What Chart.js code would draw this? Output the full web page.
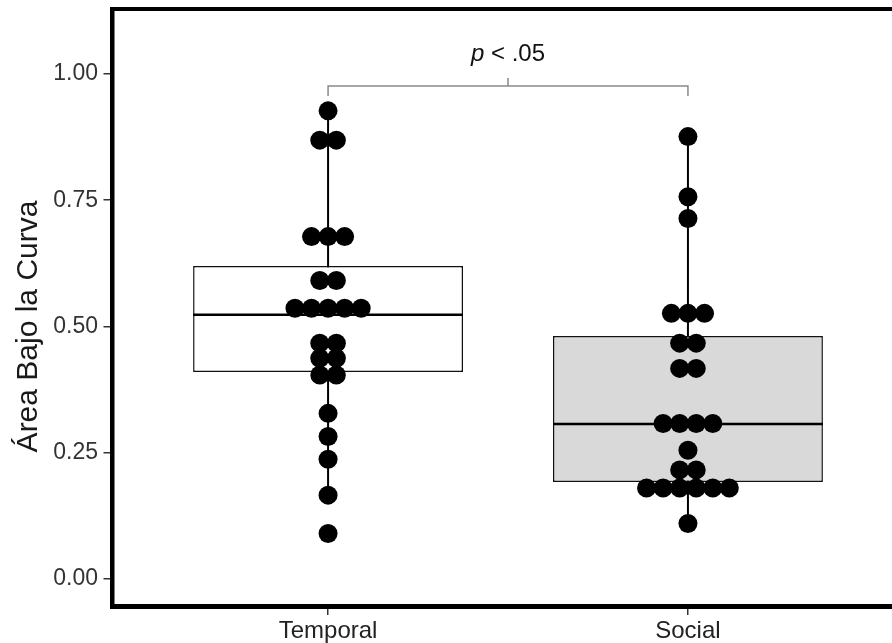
<!DOCTYPE html>
<html>
<head>
<meta charset="utf-8">
<script src="https://cdn.jsdelivr.net/npm/chart.js@4.4.1/dist/chart.umd.min.js"></script>
<style>
  html, body { margin: 0; padding: 0; background: #fff; overflow: hidden; }
  canvas { display: block; }
</style>
</head>
<body>
<canvas id="aucChart" width="892" height="643"></canvas>
<script>
const categories = ["Temporal", "Social"];

// one value per participant
const temporalAUC = [
  0.927,
  0.869, 0.869,
  0.678, 0.678, 0.678,
  0.591, 0.591,
  0.536, 0.536, 0.536, 0.536, 0.536,
  0.467, 0.467,
  0.437, 0.437,
  0.404, 0.404,
  0.328, 0.282, 0.237, 0.166, 0.090
];
const socialAUC = [
  0.876, 0.757, 0.714,
  0.526, 0.526, 0.526,
  0.467, 0.467,
  0.417, 0.417,
  0.308, 0.308, 0.308, 0.308,
  0.255,
  0.216, 0.216,
  0.180, 0.180, 0.180, 0.180, 0.180, 0.180,
  0.110
];

const boxQ1 = [0.410, 0.192];
const boxMedian = [0.523, 0.307];
const boxQ3 = [0.620, 0.481];
const whiskerLow = [0.166, 0.110];
const whiskerHigh = [0.927, 0.876];
const boxFill = ["#ffffff", "#d9d9d9"];

const yTicks = [0, 0.25, 0.5, 0.75, 1];
const yTitle = "Área Bajo la Curva";
const bracketY = 0.976;
const bracketP = "p";
const bracketRest = " < .05";

const FONT = "'Liberation Sans', Arial, sans-serif";
const BOX_WIDTH = 0.75;
const DOT_STEP = 0.046;

// center each row of equal values around the category position
function dotPoints(values, xPos) {
  const counts = {};
  values.forEach((v) => { counts[v] = (counts[v] || 0) + 1; });
  const used = {};
  return values.map((v) => {
    const i = used[v] || 0;
    used[v] = i + 1;
    return { x: xPos + (i - (counts[v] - 1) / 2) * DOT_STEP, y: v };
  });
}

const whiskerData = [];
const medianData = [];
categories.forEach((c, i) => {
  if (i > 0) {
    whiskerData.push({ x: i + 0.5, y: null });
    medianData.push({ x: i + 0.5, y: null });
  }
  whiskerData.push({ x: i + 1, y: whiskerLow[i] }, { x: i + 1, y: whiskerHigh[i] });
  medianData.push({ x: i + 1 - BOX_WIDTH / 2, y: boxMedian[i] }, { x: i + 1 + BOX_WIDTH / 2, y: boxMedian[i] });
});

const boxData = categories.map((c, i) => ({ x: i + 1, y: [boxQ1[i], boxQ3[i]] }));
const dotData = dotPoints(temporalAUC, 1).concat(dotPoints(socialAUC, 2));

const decorPlugin = {
  id: "decor",
  afterDraw(chart) {
    const { ctx, chartArea, scales } = chart;
    const x = scales.x, y = scales.y;
    ctx.save();

    // top frame line
    ctx.strokeStyle = "#000";
    ctx.lineWidth = 4;
    ctx.beginPath();
    ctx.moveTo(chartArea.left - 2, chartArea.top);
    ctx.lineTo(chartArea.right, chartArea.top);
    ctx.stroke();

    // significance bracket
    const x1 = x.getPixelForValue(1);
    const x2 = x.getPixelForValue(2);
    const xm = (x1 + x2) / 2;
    const yb = y.getPixelForValue(bracketY);
    ctx.strokeStyle = "#8a8a8a";
    ctx.lineWidth = 1.5;
    ctx.beginPath();
    ctx.moveTo(x1, yb + 10);
    ctx.lineTo(x1, yb);
    ctx.lineTo(x2, yb);
    ctx.lineTo(x2, yb + 10);
    ctx.moveTo(xm, yb);
    ctx.lineTo(xm, yb - 8);
    ctx.stroke();

    ctx.fillStyle = "#111";
    ctx.textBaseline = "alphabetic";
    ctx.textAlign = "left";
    ctx.font = "italic 24px " + FONT;
    const wP = ctx.measureText(bracketP).width;
    ctx.font = "24px " + FONT;
    const wR = ctx.measureText(bracketRest).width;
    const tx = xm - (wP + wR) / 2;
    const ty = yb - 25;
    ctx.font = "italic 24px " + FONT;
    ctx.fillText(bracketP, tx, ty);
    ctx.font = "24px " + FONT;
    ctx.fillText(bracketRest, tx + wP, ty);

    // y axis title
    ctx.translate(37, y.getPixelForValue(0.5));
    ctx.rotate(-Math.PI / 2);
    ctx.textAlign = "center";
    ctx.fillStyle = "#1a1a1a";
    ctx.font = "30px " + FONT;
    ctx.fillText(yTitle, 0, 0);

    ctx.restore();
  }
};

new Chart(document.getElementById("aucChart"), {
  type: "scatter",
  data: {
    datasets: [
      {
        type: "scatter",
        data: dotData,
        backgroundColor: "#000",
        borderWidth: 0,
        pointRadius: 9.5,
        order: 0
      },
      {
        type: "line",
        data: medianData,
        borderColor: "#000",
        borderWidth: 2.5,
        borderCapStyle: "butt",
        pointRadius: 0,
        spanGaps: false,
        fill: false,
        order: 1
      },
      {
        type: "bar",
        data: boxData,
        backgroundColor: boxFill,
        borderColor: "#111",
        borderWidth: 1.5,
        borderSkipped: false,
        barPercentage: BOX_WIDTH,
        categoryPercentage: 1,
        order: 2
      },
      {
        type: "line",
        data: whiskerData,
        borderColor: "#000",
        borderWidth: 2,
        pointRadius: 0,
        spanGaps: false,
        fill: false,
        order: 3
      }
    ]
  },
  options: {
    responsive: false,
    animation: false,
    layout: { autoPadding: false, padding: { top: 9, right: 0, left: 0, bottom: 0 } },
    plugins: {
      legend: { display: false },
      tooltip: { enabled: false }
    },
    scales: {
      x: {
        type: "linear",
        offset: false,
        min: 0.401,
        max: 2.567,
        afterFit: (s) => {
          s.height = 37;
          s.paddingLeft = 0;
          s.paddingRight = 0;
        },
        afterBuildTicks: (s) => { s.ticks = categories.map((c, i) => ({ value: i + 1 })); },
        ticks: {
          callback: (v) => categories[v - 1],
          font: { family: FONT, size: 24 },
          color: "#222",
          padding: 2,
          maxRotation: 0
        },
        grid: { offset: false, drawOnChartArea: false, drawTicks: true, tickLength: 9, color: "#333", lineWidth: 1.5 },
        border: { display: true, color: "#000", width: 5 }
      },
      y: {
        type: "linear",
        min: -0.0535,
        max: 1.1287,
        afterFit: (s) => {
          s.width = 112.5;
          s.paddingTop = 0;
          s.paddingBottom = 0;
        },
        afterBuildTicks: (s) => { s.ticks = yTicks.map((v) => ({ value: v })); },
        ticks: {
          callback: (v) => v.toFixed(2),
          font: { family: FONT, size: 23 },
          color: "#333",
          padding: 5.5
        },
        grid: { drawOnChartArea: false, drawTicks: true, tickLength: 9, color: "#333", lineWidth: 1.5 },
        border: { display: true, color: "#000", width: 4.5 }
      }
    }
  },
  plugins: [decorPlugin]
});
</script>
</body>
</html>
